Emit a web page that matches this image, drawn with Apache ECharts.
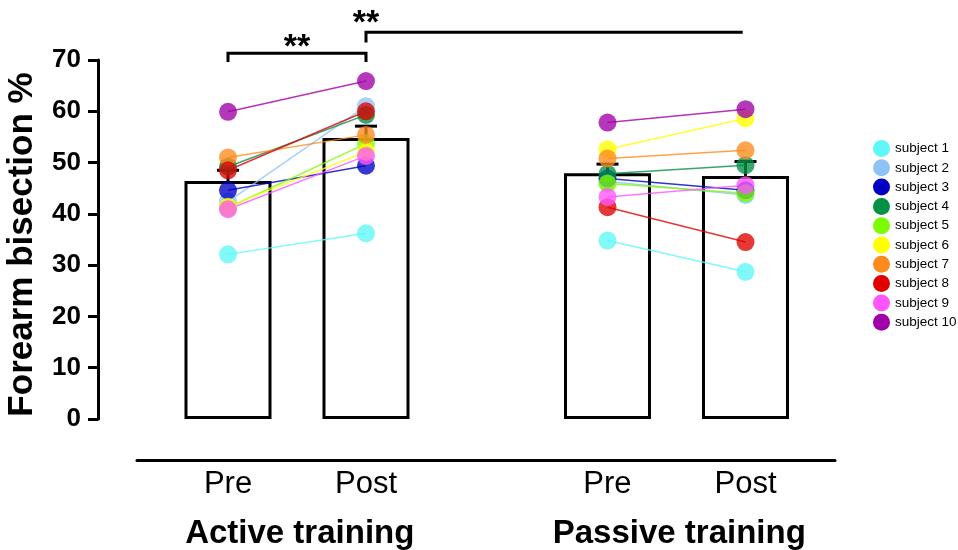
<!DOCTYPE html>
<html><head><meta charset="utf-8">
<script src="https://cdn.jsdelivr.net/npm/echarts@6/dist/echarts.min.js"></script>
<style>html,body{margin:0;padding:0;background:#fff}#c{width:958px;height:550px}</style>
</head><body><div id="c"></div>
<script>
// ---- data ----
const positions = [1, 2, 3.75, 4.75];
const conditionLabels = ['Pre', 'Post', 'Pre', 'Post'];
const groupPositions = [1.52, 4.27];
const groupLabels = ['Active training', 'Passive training'];
const barMeans = [46.4, 54.8, 47.9, 47.4];
const barSem = [2.1, 2.3, 1.8, 2.8];
const subjects = ['subject 1','subject 2','subject 3','subject 4','subject 5','subject 6','subject 7','subject 8','subject 9','subject 10'];
const subjectColors = ['#5ff7f7','#8ec4f5','#0000c4','#009046','#7cfc00','#ffff00','#ff8a1c','#e00000','#ff55ff','#a000a8'];
const activePre   = [32.1, 42.4, 44.6, 49.2, 41.2, 41.4, 51.0, 48.5, 40.9, 59.9];
const activePost  = [36.2, 61.0, 49.4, 59.3, 53.7, 52.1, 55.4, 60.0, 51.3, 65.9];
const passivePre  = [34.8, 46.3, 46.9, 47.8, 45.9, 52.6, 50.8, 41.3, 43.3, 57.8];
const passivePost = [28.7, 43.7, 44.6, 49.5, 44.0, 58.6, 52.4, 34.5, 45.6, 60.4];
const yTicks = [0, 10, 20, 30, 40, 50, 60, 70];
// significance brackets: [x1, x2, y, leftDrop, rightDrop]
const brackets = [[1, 2, 71.3, 1.7, 1.7], [2, 4.73, 75.4, 2.0, 0]];
const starX = [1.5, 2];
const starY = [72.4, 77.0];
const starText = ['**', '**'];

const FONT = '"Liberation Sans", Arial, sans-serif';
const chart = echarts.init(document.getElementById('c'), null, {renderer: 'canvas'});

const series = [];
series.push({
  type: 'bar', xAxisIndex: 0, yAxisIndex: 0, z: 1,
  data: positions.map((x, i) => [x, barMeans[i]]),
  barWidth: 87,
  itemStyle: {color: '#fff', borderColor: '#000', borderWidth: 3},
  silent: true
});
series.push({
  type: 'custom', z: 2, silent: true,
  data: positions.map((x, i) => [x, barMeans[i], barMeans[i] + barSem[i]]),
  renderItem: (params, api) => {
    const x = api.value(0);
    const b = api.coord([x, api.value(1)]);
    const t = api.coord([x, api.value(2)]);
    return {type: 'group', children: [
      {type: 'line', shape: {x1: b[0], y1: b[1], x2: t[0], y2: t[1]}, style: {stroke: '#000', lineWidth: 3}},
      {type: 'line', shape: {x1: t[0] - 11, y1: t[1], x2: t[0] + 11, y2: t[1]}, style: {stroke: '#000', lineWidth: 3}}
    ]};
  }
});
subjects.forEach((name, i) => {
  const common = {
    type: 'line', name, z: 5, symbol: 'circle', symbolSize: 18,
    color: subjectColors[i],
    lineStyle: {width: 1.5, color: subjectColors[i], opacity: 0.8},
    itemStyle: {color: subjectColors[i], opacity: 0.78},
    silent: true
  };
  series.push(Object.assign({}, common, {data: [[positions[0], activePre[i]], [positions[1], activePost[i]]]}));
  series.push(Object.assign({}, common, {data: [[positions[2], passivePre[i]], [positions[3], passivePost[i]]]}));
});
series.push({
  type: 'custom', z: 6, silent: true,
  data: brackets,
  renderItem: (params, api) => {
    const x1 = api.value(0), x2 = api.value(1), y = api.value(2), d1 = api.value(3), d2 = api.value(4);
    const pts = [];
    if (d1 > 0) pts.push(api.coord([x1, y - d1]));
    pts.push(api.coord([x1, y]), api.coord([x2, y]));
    if (d2 > 0) pts.push(api.coord([x2, y - d2]));
    return {type: 'polyline', shape: {points: pts}, style: {stroke: '#000', lineWidth: 3, fill: null}};
  }
});
series.push({
  type: 'custom', z: 6, silent: true,
  data: starX.map((x, i) => [x, starY[i], i]),
  renderItem: (params, api) => {
    const p = api.coord([api.value(0), api.value(1)]);
    return {type: 'text', x: p[0], y: p[1], style: {text: starText[api.value(2)], font: 'bold 34px ' + FONT, fill: '#000', align: 'center', verticalAlign: 'middle'}};
  }
});

chart.setOption({
  animation: false,
  backgroundColor: '#fff',
  grid: {left: 137, right: 123, top: 60, bottom: 131, containLabel: false, outerBoundsMode: 'none'},
  legend: {
    data: subjects.map(n => ({name: n, itemStyle: {opacity: 1}})),
    orient: 'vertical', left: 873, top: 140, padding: 0,
    itemWidth: 17, itemHeight: 17, itemGap: 2.3, icon: 'circle',
    textStyle: {fontSize: 13.5, fontFamily: FONT, color: '#000'},
    selectedMode: false
  },
  xAxis: [{
    type: 'value', min: 0.3406, max: 5.3986, offset: 41,
    axisLine: {show: true, onZero: false, lineStyle: {color: '#000', width: 3}},
    axisTick: {show: false}, splitLine: {show: false},
    axisLabel: {
      customValues: positions, margin: 9,
      formatter: v => conditionLabels[positions.indexOf(v)],
      fontSize: 31, fontFamily: FONT, color: '#000'
    }
  }, {
    type: 'value', min: 0.3406, max: 5.3986, offset: 41, position: 'bottom',
    axisLine: {show: false, onZero: false}, axisTick: {show: false}, splitLine: {show: false},
    axisLabel: {
      customValues: groupPositions, margin: 57,
      formatter: v => groupLabels[groupPositions.indexOf(v)],
      fontSize: 33, fontWeight: 'bold', fontFamily: FONT, color: '#000'
    }
  }],
  yAxis: {
    type: 'value', min: 0, max: 70, interval: 10, offset: 39,
    name: 'Forearm bisection %', nameLocation: 'middle', nameRotate: 90, nameGap: 58,
    nameTextStyle: {fontSize: 35, fontWeight: 'bold', fontFamily: FONT, color: '#000', padding: [0, 10, 0, 0]},
    axisLine: {show: true, onZero: false, lineStyle: {color: '#000', width: 3}},
    axisTick: {show: true, length: 10, lineStyle: {color: '#000', width: 3}},
    splitLine: {show: false},
    axisLabel: {
      customValues: yTicks, margin: 17,
      fontSize: 26, fontWeight: 'bold', fontFamily: FONT, color: '#000'
    }
  },
  series
});
</script></body></html>
